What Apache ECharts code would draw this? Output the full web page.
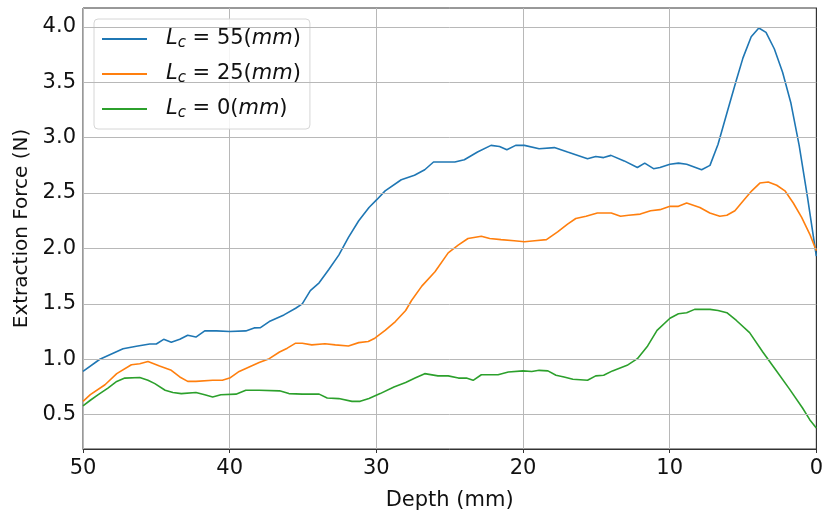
<!DOCTYPE html>
<html>
<head>
<meta charset="utf-8">
<script src="https://cdn.jsdelivr.net/npm/echarts@6/dist/echarts.min.js"></script>
<style>html,body{margin:0;padding:0;background:#fff}#c{width:826px;height:516px}</style>
</head>
<body>
<div id="c"></div>
<script>
const blueDepth = [50, 48.85, 47.27, 46.36, 45.45, 45.0, 44.5, 43.98, 43.4, 42.86, 42.3, 41.7, 40.9, 40.0, 38.9, 38.33, 37.9, 37.3, 36.3, 35.5, 35.05, 34.5, 33.9, 33.24, 32.56, 31.9, 31.2, 30.5, 29.97, 29.4, 28.3, 27.4, 26.7, 26.1, 24.65, 24.0, 23.1, 22.18, 21.6, 21.1, 20.5, 19.9, 18.9, 17.86, 16.96, 15.6, 15.04, 14.5, 14.0, 13.1, 12.2, 11.7, 11.1, 10.66, 9.98, 9.4, 8.84, 7.82, 7.25, 6.7, 6.1, 5.45, 5.0, 4.44, 3.92, 3.43, 2.86, 2.3, 1.73, 1.17, 0.6, 0];
const blueForce = [0.89, 1.0, 1.094, 1.117, 1.138, 1.138, 1.18, 1.153, 1.18, 1.217, 1.20, 1.256, 1.256, 1.25, 1.256, 1.283, 1.285, 1.34, 1.40, 1.46, 1.50, 1.62, 1.69, 1.81, 1.94, 2.10, 2.25, 2.37, 2.44, 2.52, 2.62, 2.66, 2.71, 2.78, 2.78, 2.80, 2.87, 2.93, 2.92, 2.89, 2.93, 2.93, 2.90, 2.91, 2.87, 2.81, 2.83, 2.82, 2.84, 2.79, 2.73, 2.77, 2.72, 2.73, 2.76, 2.77, 2.76, 2.71, 2.75, 2.94, 3.22, 3.52, 3.72, 3.91, 3.99, 3.95, 3.80, 3.59, 3.31, 2.93, 2.46, 1.93];

const orangeDepth = [50, 49.5, 48.5, 47.7, 46.7, 46.13, 45.57, 44.78, 43.98, 43.4, 42.86, 42.3, 41.16, 40.5, 40.0, 39.35, 38.67, 37.99, 37.3, 36.6, 36.07, 35.5, 35.05, 34.4, 33.5, 32.8, 31.9, 31.2, 30.55, 30.1, 29.4, 28.7, 28.0, 27.6, 26.9, 26.0, 25.1, 24.42, 23.75, 22.84, 22.27, 21.5, 20.6, 19.9, 19.2, 18.4, 17.64, 16.96, 16.4, 15.7, 14.93, 13.98, 13.35, 12.8, 12.0, 11.3, 10.66, 9.98, 9.4, 8.84, 7.94, 7.26, 6.58, 6.1, 5.55, 4.98, 4.4, 3.85, 3.28, 2.7, 2.14, 1.57, 1.0, 0.45, 0];
const orangeForce = [0.62, 0.68, 0.77, 0.87, 0.95, 0.96, 0.98, 0.94, 0.90, 0.84, 0.80, 0.80, 0.81, 0.81, 0.83, 0.89, 0.93, 0.97, 1.005, 1.065, 1.10, 1.145, 1.145, 1.13, 1.14, 1.13, 1.12, 1.15, 1.16, 1.19, 1.26, 1.34, 1.44, 1.53, 1.66, 1.79, 1.96, 2.03, 2.09, 2.11, 2.09, 2.08, 2.07, 2.06, 2.07, 2.08, 2.15, 2.22, 2.27, 2.29, 2.32, 2.32, 2.29, 2.30, 2.31, 2.34, 2.35, 2.38, 2.38, 2.41, 2.37, 2.32, 2.29, 2.30, 2.34, 2.43, 2.52, 2.59, 2.60, 2.57, 2.52, 2.41, 2.28, 2.13, 1.98];

const greenDepth = [50, 49.5, 48.96, 48.3, 47.7, 47.15, 46.13, 45.57, 45.1, 44.4, 43.87, 43.3, 42.3, 41.7, 41.16, 40.6, 39.57, 38.9, 37.99, 36.6, 35.96, 35.05, 33.9, 33.35, 32.56, 31.66, 31.1, 30.5, 29.74, 28.8, 28.0, 27.36, 26.7, 25.8, 25.1, 24.4, 23.86, 23.4, 22.84, 21.7, 21.0, 20.0, 19.4, 18.9, 18.3, 17.75, 17.2, 16.6, 15.6, 15.04, 14.5, 13.9, 12.9, 12.2, 11.5, 10.86, 9.98, 9.4, 8.84, 8.3, 7.25, 6.7, 6.1, 5.45, 4.55, 3.65, 2.75, 1.85, 0.94, 0.45, 0];
const greenForce = [0.58, 0.63, 0.68, 0.74, 0.80, 0.83, 0.835, 0.81, 0.78, 0.72, 0.70, 0.69, 0.70, 0.68, 0.66, 0.68, 0.685, 0.72, 0.72, 0.715, 0.69, 0.685, 0.685, 0.65, 0.645, 0.62, 0.62, 0.645, 0.69, 0.75, 0.79, 0.83, 0.87, 0.85, 0.85, 0.83, 0.83, 0.81, 0.86, 0.86, 0.885, 0.895, 0.89, 0.90, 0.895, 0.855, 0.84, 0.82, 0.81, 0.85, 0.855, 0.895, 0.945, 1.005, 1.12, 1.26, 1.37, 1.41, 1.42, 1.45, 1.45, 1.44, 1.42, 1.35, 1.24, 1.065, 0.90, 0.735, 0.56, 0.455, 0.38];

const seriesNames = ['55', '25', '0'];
const seriesColors = ['#1f77b4', '#ff7f0e', '#2ca02c'];
const yTicks = [0.5, 1.0, 1.5, 2.0, 2.5, 3.0, 3.5, 4.0];
const xTicks = [0, 10, 20, 30, 40, 50];

const FONT = 'DejaVu Sans';
const FS = 21;
const zip = (a, b) => a.map((v, i) => [v, b[i]]);
const datasets = [zip(blueDepth, blueForce), zip(orangeDepth, orangeForce), zip(greenDepth, greenForce)];

const chart = echarts.init(document.getElementById('c'), null, {renderer: 'canvas'});
const option = {
  animation: false,
  backgroundColor: '#ffffff',
  textStyle: {fontFamily: FONT},
  grid: {left: 83, right: 6, top: 8, bottom: 58, show: true, borderColor: '#333', borderWidth: 1, backgroundColor: 'transparent'},
  legend: {
    orient: 'vertical', left: 94, top: 19,
    padding: [8, 9, 8, 8],
    itemGap: 11, itemWidth: 45, itemHeight: 2, icon: 'rect',
    backgroundColor: 'rgba(255,255,255,0.85)', borderColor: '#d6d6d6', borderWidth: 1, borderRadius: 4,
    data: seriesNames.map(n => 'L' + n),
    formatter: function (name) {
      return '{L|L}{c|c}{t| = ' + name.slice(1) + '(}{m|mm}{t|)}';
    },
    textStyle: {
      fontFamily: FONT, fontSize: FS, color: '#111', lineHeight: 24,
      rich: {
        L: {fontFamily: FONT, fontStyle: 'italic', fontSize: FS, color: '#111', padding: [0, 0, 0, 14]},
        m: {fontFamily: FONT, fontStyle: 'italic', fontSize: FS, color: '#111'},
        c: {fontFamily: FONT, fontStyle: 'italic', fontSize: 15, color: '#111', verticalAlign: 'bottom', padding: [9, 0, 0, 0]},
        t: {fontFamily: FONT, fontSize: FS, color: '#111'}
      }
    }
  },
  xAxis: {
    type: 'value', inverse: true, min: 0, max: 50, interval: 10,
    name: 'Depth (mm)', nameLocation: 'middle', nameGap: 41,
    nameTextStyle: {fontFamily: FONT, fontSize: FS, color: '#111'},
    axisLine: {show: true, lineStyle: {color: '#333', width: 1}},
    axisTick: {show: true, inside: false, length: 4, lineStyle: {color: '#333'}},
    axisLabel: {fontFamily: FONT, fontSize: FS, color: '#111', margin: 9},
    splitLine: {show: true, lineStyle: {color: '#b8b8b8', width: 1}}
  },
  yAxis: {
    type: 'value', min: 0.19, max: 4.17,
    name: 'Extraction Force (N)', nameLocation: 'middle', nameGap: 50,
    nameTextStyle: {fontFamily: FONT, fontSize: 20, color: '#111'},
    axisLine: {show: true, lineStyle: {color: '#333', width: 1}},
    axisTick: {show: true, inside: false, length: 4, customValues: yTicks, lineStyle: {color: '#333'}},
    axisLabel: {fontFamily: FONT, fontSize: FS, color: '#111', margin: 7, customValues: yTicks, formatter: v => v.toFixed(1)},
    splitLine: {show: false}
  },
  series: datasets.map((d, i) => ({
    name: 'L' + seriesNames[i], type: 'line', data: d, symbol: 'none', smooth: false,
    lineStyle: {color: seriesColors[i], width: 1.6}, itemStyle: {color: seriesColors[i]},
    z: 3,
    markLine: i === 0 ? {
      silent: true, symbol: 'none', label: {show: false}, animation: false,
      lineStyle: {color: '#b8b8b8', width: 1, type: 'solid'},
      data: yTicks.map(v => ({yAxis: v}))
    } : undefined
  }))
};
chart.setOption(option);
</script>
</body>
</html>
